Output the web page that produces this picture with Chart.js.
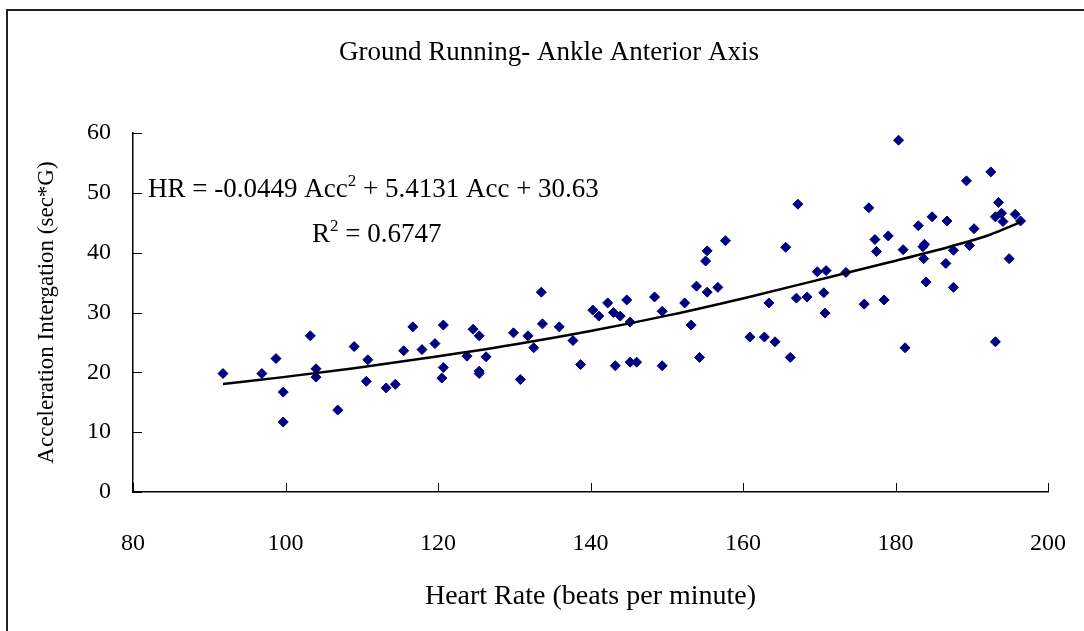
<!DOCTYPE html>
<html>
<head>
<meta charset="utf-8">
<script src="https://cdn.jsdelivr.net/npm/chart.js@4/dist/chart.umd.min.js"></script>
<style>
  html, body { margin: 0; padding: 0; background: #fff; }
  #wrap { width: 1084px; height: 631px; position: relative; }
</style>
</head>
<body>
<div id="wrap"><canvas id="c" width="1084" height="631"></canvas></div>
<script>
const chartTitle = "Ground Running- Ankle Anterior Axis";
const xAxisTitle = "Heart Rate (beats per minute)";
const yAxisTitle = "Acceleration Intergation (sec*G)";
const xTicks = [80, 100, 120, 140, 160, 180, 200];
const yTicks = [0, 10, 20, 30, 40, 50, 60];

const heartRate = [
  91.8, 96.9, 98.75, 99.7, 99.7, 103.25, 104.0, 104.0, 106.85, 109.0,
  110.8, 110.6, 113.2, 114.4, 115.5, 116.7, 117.9, 119.6, 120.7, 120.7,
  120.5, 124.6, 125.4, 123.8, 126.3, 125.4, 125.4, 129.9, 130.8, 131.8,
  132.55, 133.55, 133.7, 135.9, 137.7, 138.7, 140.3, 141.1, 142.25, 143.0,
  143.9, 143.25, 144.75, 145.2, 145.2, 146.05, 148.4, 149.4, 149.4, 152.35,
  153.2, 153.9, 154.3, 155.3, 155.1, 155.3, 156.7, 157.7, 160.9, 162.8,
  163.4, 164.2, 165.6, 166.2, 167.2, 167.0, 168.4, 169.75, 170.9, 170.6,
  170.75, 173.5, 175.9, 176.5, 177.3, 177.5, 178.5, 179.05, 180.4, 181.0,
  181.25, 183.0, 183.8, 183.6, 183.7, 184.0, 184.8, 186.75, 186.6, 187.6,
  187.6, 189.3, 189.7, 190.3, 192.5, 193.1, 193.1, 193.5, 193.9, 194.1,
  194.9, 195.7, 196.4
];
const accel = [
  19.8, 19.8, 22.3, 16.7, 11.7, 26.1, 20.6, 19.2, 13.7, 24.3,
  22.1, 18.5, 17.4, 18.0, 23.6, 27.6, 23.8, 24.8, 27.9, 20.8,
  19.05, 27.2, 26.1, 22.7, 22.6, 20.2, 19.8, 26.6, 18.8, 26.1,
  24.1, 33.4, 28.1, 27.6, 25.3, 21.3, 30.4, 29.4, 31.6, 30.0,
  29.4, 21.1, 32.1, 28.4, 21.7, 21.7, 32.6, 30.2, 21.1, 31.6,
  27.9, 34.4, 22.5, 33.4, 38.6, 40.3, 34.2, 42.0, 25.9, 25.9,
  31.6, 25.1, 40.9, 22.5, 48.1, 32.4, 32.6, 36.8, 37.0, 33.3,
  29.9, 36.7, 31.4, 47.5, 42.2, 40.2, 32.1, 42.8, 58.8, 40.5,
  24.1, 44.5, 41.4, 41.0, 39.0, 35.1, 46.0, 45.3, 38.2, 40.4,
  34.2, 52.0, 41.2, 44.0, 53.5, 25.1, 46.0, 48.4, 46.6, 45.2,
  39.0, 46.4, 45.3
];

// Trendline
const trendX = [91.8, 99.7, 109.0, 119.6, 130.0, 140.0, 150.5, 160.8, 171.3, 179.2, 187.1, 192.4, 196.4];
const trendY = [18.05, 19.2, 20.7, 22.6, 24.65, 26.9, 29.6, 32.6, 35.9, 38.4, 41.0, 43.0, 45.1];

const eqLine1 = ["HR = -0.0449 Acc", "2", " + 5.4131 Acc + 30.63"];
const eqLine2 = ["R", "2", " = 0.6747"];

const FONT = "'Liberation Serif', 'Times New Roman', serif";

const extras = {
  id: 'extras',
  beforeDraw(chart) {
    const ctx = chart.ctx;
    ctx.save();
    ctx.fillStyle = '#fff';
    ctx.fillRect(0, 0, chart.width, chart.height);
    ctx.strokeStyle = '#222';
    ctx.lineWidth = 2;
    ctx.beginPath();
    ctx.moveTo(7, chart.height);
    ctx.lineTo(7, 10);
    ctx.lineTo(chart.width, 10);
    ctx.stroke();
    ctx.restore();
  },
  afterDraw(chart) {
    const ctx = chart.ctx;
    const xs = chart.scales.x, ys = chart.scales.y;
    ctx.save();
    ctx.strokeStyle = '#000';
    ctx.lineWidth = 1;
    xTicks.forEach(v => {
      const px = Math.round(xs.getPixelForValue(v)) + 0.5;
      ctx.beginPath();
      ctx.moveTo(px, ys.bottom);
      ctx.lineTo(px, ys.bottom - 9);
      ctx.stroke();
    });
    yTicks.forEach(v => {
      const py = Math.round(ys.getPixelForValue(v)) + 0.5;
      ctx.beginPath();
      ctx.moveTo(xs.left, py);
      ctx.lineTo(xs.left + 9, py);
      ctx.stroke();
    });
    // equation text
    ctx.fillStyle = '#000';
    ctx.textBaseline = 'alphabetic';
    ctx.textAlign = 'left';
    const big = '27px ' + FONT, small = '17px ' + FONT;
    function drawEq(parts, x, y) {
      ctx.font = big; ctx.fillText(parts[0], x, y); x += ctx.measureText(parts[0]).width;
      ctx.font = small; ctx.fillText(parts[1], x, y - 11); x += ctx.measureText(parts[1]).width;
      ctx.font = big; ctx.fillText(parts[2], x, y);
    }
    drawEq(eqLine1, 148, 197);
    drawEq(eqLine2, 312, 242);
    ctx.restore();
  }
};

new Chart(document.getElementById('c'), {
  data: {
    datasets: [
      {
        type: 'scatter',
        label: 'data',
        data: heartRate.map((x, i) => ({ x: x, y: accel[i] })),
        pointStyle: 'rectRot',
        pointRadius: 5,
        pointHoverRadius: 5,
        backgroundColor: '#000080',
        borderColor: '#000080',
        borderWidth: 1,
        order: 2
      },
      {
        type: 'line',
        label: 'trend',
        data: trendX.map((x, i) => ({ x: x, y: trendY[i] })),
        borderColor: '#000',
        borderWidth: 2.5,
        pointRadius: 0,
        fill: false,
        cubicInterpolationMode: 'monotone',
        order: 1
      }
    ]
  },
  options: {
    responsive: false,
    animation: false,
    events: [],
    layout: { padding: { left: 50, right: 36, top: 0, bottom: 0 } },
    plugins: {
      legend: { display: false },
      tooltip: { enabled: false },
      title: {
        display: true,
        text: chartTitle,
        color: '#000',
        font: { family: FONT, size: 27, weight: 'normal', lineHeight: 1.2 },
        padding: { top: 37, bottom: 63.6 }
      }
    },
    scales: {
      x: {
        type: 'linear',
        min: 80, max: 200,
        afterFit(s) { s.height = 139; s.paddingLeft = 0; s.paddingRight = 0; },
        afterBuildTicks(s) { s.ticks = xTicks.map(v => ({ value: v })); },
        grid: { display: false, drawTicks: false },
        border: { display: true, color: '#000', width: 1.5 },
        ticks: { color: '#000', padding: 37, font: { family: FONT, size: 24 }, maxRotation: 0 },
        title: {
          display: true, text: xAxisTitle, color: '#000',
          font: { family: FONT, size: 28, lineHeight: 1.2 },
          padding: { top: 0, bottom: 17.2 }
        }
      },
      y: {
        type: 'linear',
        min: 0, max: 60,
        afterFit(s) { s.width = 83; s.paddingTop = 0; s.paddingBottom = 0; },
        afterBuildTicks(s) { s.ticks = yTicks.map(v => ({ value: v })); },
        grid: { display: false, drawTicks: false },
        border: { display: true, color: '#000', width: 1.5 },
        ticks: { color: '#000', padding: 22, font: { family: FONT, size: 24 } },
        title: {
          display: true, text: yAxisTitle, color: '#000',
          font: { family: FONT, size: 23, lineHeight: 1.2 },
          padding: { top: -16.8, bottom: 0 }
        }
      }
    }
  },
  plugins: [extras]
});
</script>
</body>
</html>
